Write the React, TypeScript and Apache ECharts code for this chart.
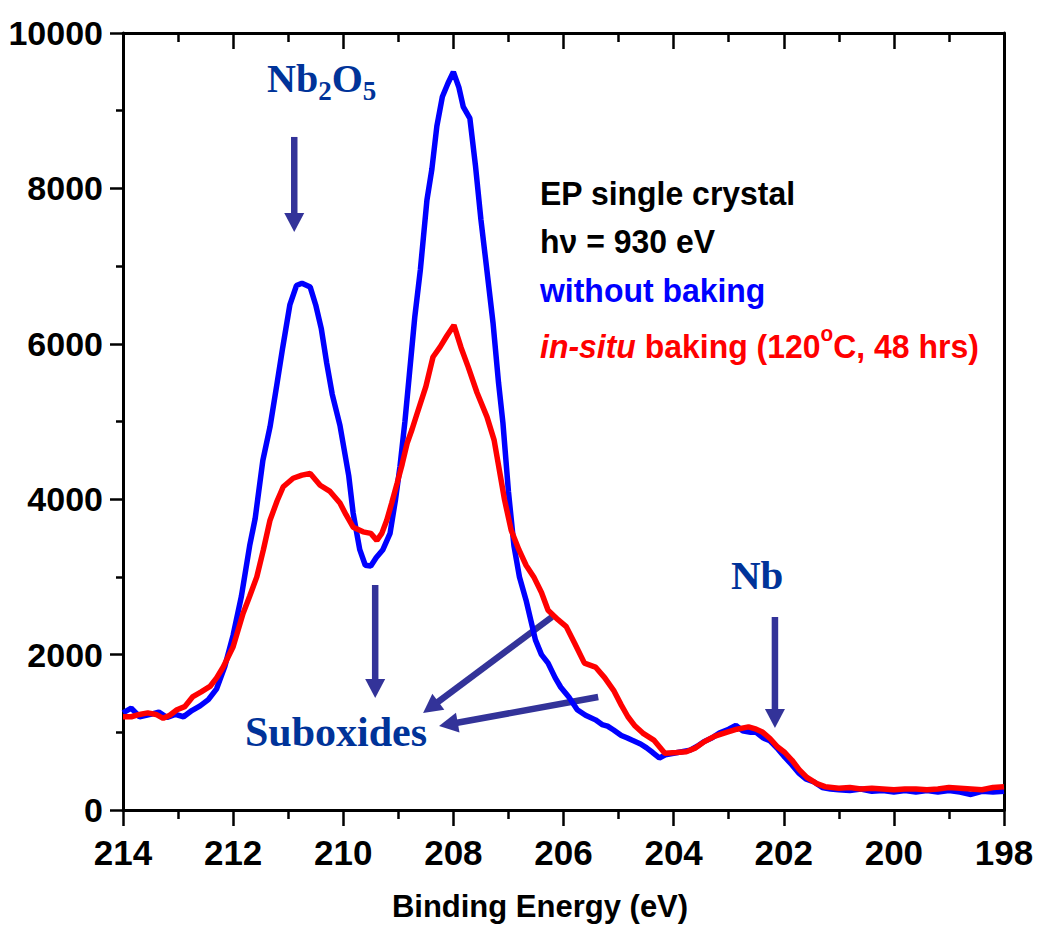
import React, { useEffect, useRef } from "react";
import * as echarts from "echarts";

// Nb 3d XPS spectra, EP single crystal, hν = 930 eV
const energyUnbaked = [
  214.0, 213.85, 213.7, 213.5, 213.35, 213.2, 213.05, 212.9, 212.75, 212.6,
  212.45, 212.3, 212.15, 212.0, 211.85, 211.7, 211.6, 211.46, 211.33, 211.2,
  211.1, 210.97, 210.85, 210.75, 210.6, 210.5, 210.4, 210.3, 210.2, 210.06,
  209.9, 209.82, 209.7, 209.6, 209.5, 209.4, 209.28, 209.15, 209.05, 208.97,
  208.88, 208.8, 208.7, 208.6, 208.48, 208.39, 208.3, 208.2, 208.1, 208.0,
  207.9, 207.82, 207.7, 207.6, 207.5, 207.4, 207.28, 207.18, 207.1, 207.0,
  206.9, 206.8, 206.68, 206.51, 206.4, 206.28, 206.15, 206.05, 205.9, 205.75,
  205.6, 205.42, 205.3, 205.2, 205.09, 204.95, 204.85, 204.76, 204.6, 204.49,
  204.38, 204.26, 204.15, 204.0, 203.85, 203.7, 203.57, 203.45, 203.3, 203.17,
  203.0, 202.87, 202.75, 202.6, 202.5, 202.38, 202.25, 202.1, 201.98, 201.85,
  201.72, 201.6, 201.45, 201.3, 201.15, 201.0, 200.8, 200.6, 200.4, 200.2,
  200.0, 199.8, 199.6, 199.4, 199.2, 199.0, 198.8, 198.6, 198.4, 198.2, 198.0,
];
const countsUnbaked = [
  1250, 1310, 1200, 1230, 1260, 1190, 1230, 1200, 1280, 1340,
  1420, 1560, 1850, 2250, 2750, 3400, 3750, 4500, 4930, 5500,
  5950, 6500, 6750, 6780, 6730, 6500, 6200, 5750, 5350, 4950,
  4300, 3820, 3350, 3150, 3140, 3250, 3350, 3560, 4000, 4420,
  5000, 5600, 6350, 6950, 7850, 8250, 8800, 9180, 9350, 9500,
  9300, 9050, 8900, 8300, 7600, 7000, 6270, 5500, 4980, 4100,
  3400, 3000, 2700, 2190, 2000, 1890, 1700, 1580, 1450, 1290,
  1220, 1160, 1100, 1080, 1030, 960, 930, 900, 850, 800,
  740, 670, 710, 730, 750, 770, 820, 880, 930, 990,
  1040, 1090, 1020, 1000, 1000, 930, 890, 780, 680, 580,
  470, 400, 360, 290, 270, 260, 250, 270, 240, 250,
  230, 250, 230, 250, 230, 250, 230, 200, 240, 230, 240,
];

const energyBaked = [
  214.0, 213.85, 213.7, 213.55, 213.4, 213.27, 213.15, 213.02, 212.88, 212.73,
  212.58, 212.42, 212.3, 212.18, 212.0, 211.82, 211.7, 211.57, 211.45, 211.33,
  211.2, 211.09, 210.91, 210.75, 210.6, 210.42, 210.24, 210.06, 209.95, 209.82,
  209.64, 209.5, 209.39, 209.3, 209.21, 209.12, 209.02, 208.93, 208.84, 208.75,
  208.66, 208.5, 208.37, 208.24, 208.12, 207.99, 207.86, 207.73, 207.57, 207.39,
  207.26, 207.07, 206.95, 206.81, 206.68, 206.54, 206.4, 206.28, 206.1, 205.95,
  205.8, 205.62, 205.42, 205.25, 205.09, 204.95, 204.83, 204.7, 204.56, 204.36,
  204.16, 203.95, 203.77, 203.6, 203.44, 203.25, 203.04, 202.85, 202.64, 202.5,
  202.38, 202.25, 202.11, 201.98, 201.85, 201.72, 201.58, 201.4, 201.25, 201.0,
  200.8, 200.6, 200.4, 200.2, 200.0, 199.8, 199.6, 199.4, 199.2, 199.0,
  198.8, 198.6, 198.4, 198.2, 198.0,
];
const countsBaked = [
  1200, 1200, 1230, 1250, 1230, 1180, 1220, 1290, 1330, 1460,
  1520, 1590, 1700, 1840, 2100, 2530, 2750, 3000, 3350, 3730,
  3980, 4160, 4270, 4310, 4330, 4180, 4100, 3950, 3800, 3640,
  3580, 3560, 3470, 3560, 3730, 3950, 4210, 4450, 4720, 4900,
  5100, 5450, 5830, 5960, 6100, 6240, 5950, 5700, 5370, 5060,
  4760, 3990, 3600, 3350, 3150, 3000, 2800, 2570, 2450, 2360,
  2150, 1890, 1840, 1700, 1540, 1350, 1200, 1080, 990, 900,
  730, 740, 750, 800, 880, 950, 1000, 1040, 1070, 1040,
  1000, 920, 810, 740, 640, 520, 420, 340, 300, 280,
  290, 270, 280, 270, 260, 270, 270, 260, 270, 290,
  280, 270, 260, 290, 300,
];

const X_MIN = 198;
const X_MAX = 214;
const Y_MIN = 0;
const Y_MAX = 10000;

const BLUE = "#0000ff";
const RED = "#ff0000";
const NOTE_BLUE = "#003399";
const ARROW = "#333399";

// arrows in data coordinates: [binding energy, counts]
const arrows: [number[], number[]][] = [
  [[210.89, 8662], [210.89, 7439]],
  [[209.42, 2896], [209.42, 1440]],
  [[206.21, 2484], [208.55, 1248]],
  [[205.37, 1454], [208.26, 1080]],
  [[202.16, 2484], [202.16, 1055]],
];

const SANS = "'Liberation Sans', Arial, sans-serif";
const SERIF = "'Liberation Serif', 'Times New Roman', serif";

function arrowShapes(p0: number[], p1: number[]) {
  const headLen = 19;
  const headHalf = 10;
  const dx = p1[0] - p0[0];
  const dy = p1[1] - p0[1];
  const len = Math.hypot(dx, dy);
  const ux = dx / len;
  const uy = dy / len;
  const nx = -uy;
  const ny = ux;
  const bx = p1[0] - ux * headLen;
  const by = p1[1] - uy * headLen;
  return [
    {
      type: "line",
      silent: true,
      shape: { x1: p0[0], y1: p0[1], x2: bx + ux * 2, y2: by + uy * 2 },
      style: { stroke: ARROW, lineWidth: 6.5 },
    },
    {
      type: "polygon",
      silent: true,
      shape: {
        points: [
          [p1[0], p1[1]],
          [bx + nx * headHalf, by + ny * headHalf],
          [bx - nx * headHalf, by - ny * headHalf],
        ],
      },
      style: { fill: ARROW },
    },
  ];
}

export default function App() {
  const ref = useRef<HTMLDivElement>(null);

  useEffect(() => {
    if (!ref.current) return;
    const chart = echarts.init(ref.current, null, { renderer: "svg" });

    const axisLine = { show: true, onZero: false, lineStyle: { color: "#000", width: 3 } };
    const tickStyle = { color: "#000", width: 2.5 };

    chart.setOption({
      animation: false,
      backgroundColor: "#fff",
      grid: {
        left: 123,
        right: 35,
        top: 33,
        bottom: 119,
        containLabel: false,
        outerBoundsMode: "none",
      },
      xAxis: [
        {
          type: "value",
          position: "bottom",
          min: X_MIN,
          max: X_MAX,
          interval: 2,
          inverse: true,
          axisLine,
          axisTick: { show: true, inside: false, length: 16, lineStyle: tickStyle },
          minorTick: { show: true, splitNumber: 2, length: 9, lineStyle: tickStyle },
          splitLine: { show: false },
          axisLabel: {
            margin: 25,
            color: "#000",
            fontFamily: SANS,
            fontWeight: "bold",
            fontSize: 35,
            showMinLabel: true,
            showMaxLabel: true,
            formatter: (v: number) => String(v),
          },
        },
        {
          type: "value",
          position: "top",
          min: X_MIN,
          max: X_MAX,
          interval: 2,
          inverse: true,
          axisLine,
          axisTick: { show: true, inside: true, length: 16, lineStyle: tickStyle },
          minorTick: { show: true, splitNumber: 2, length: 9, lineStyle: tickStyle },
          splitLine: { show: false },
          axisLabel: { show: false },
        },
      ],
      yAxis: [
        {
          type: "value",
          position: "left",
          min: Y_MIN,
          max: Y_MAX,
          interval: 2000,
          axisLine,
          axisTick: { show: true, inside: false, length: 13, lineStyle: tickStyle },
          minorTick: { show: true, splitNumber: 2, length: 7, lineStyle: tickStyle },
          splitLine: { show: false },
          axisLabel: {
            margin: 20,
            color: "#000",
            fontFamily: SANS,
            fontWeight: "bold",
            fontSize: 34,
            formatter: (v: number) => String(v),
          },
        },
        {
          type: "value",
          position: "right",
          min: Y_MIN,
          max: Y_MAX,
          interval: 2000,
          axisLine,
          axisTick: { show: false },
          splitLine: { show: false },
          axisLabel: { show: false },
        },
      ],
      series: [
        {
          name: "without baking",
          type: "line",
          xAxisIndex: 0,
          yAxisIndex: 0,
          data: energyUnbaked.map((e, i) => [e, countsUnbaked[i]]),
          showSymbol: false,
          lineStyle: { color: BLUE, width: 5.5 },
          itemStyle: { color: BLUE },
          z: 2,
        },
        {
          name: "in-situ baking",
          type: "line",
          xAxisIndex: 0,
          yAxisIndex: 0,
          data: energyBaked.map((e, i) => [e, countsBaked[i]]),
          showSymbol: false,
          lineStyle: { color: RED, width: 5.5 },
          itemStyle: { color: RED },
          z: 3,
        },
      ],
    });

    const toPx = (p: number[]) => chart.convertToPixel({ gridIndex: 0 }, p) as number[];
    const arrowEls = arrows.flatMap(([a, b]) => arrowShapes(toPx(a), toPx(b)));

    const serifBold = { fontFamily: SERIF, fontWeight: "bold", fill: NOTE_BLUE };
    const legendBase = { fontFamily: SANS, fontWeight: "bold", fontSize: 34 };

    const textEls = [
      {
        type: "text",
        x: 267,
        y: 78.5,
        silent: true,
        style: {
          text: "{m|Nb}{s|2}{m|O}{s|5}",
          verticalAlign: "middle",
          align: "left",
          rich: {
            m: { ...serifBold, fontSize: 40 },
            s: { ...serifBold, fontSize: 27, lineHeight: 27, padding: [25, 0, 0, 0] },
          },
        },
      },
      {
        type: "text",
        x: 245,
        y: 732,
        silent: true,
        style: { text: "Suboxides", ...serifBold, fontSize: 42, verticalAlign: "middle", align: "left" },
      },
      {
        type: "text",
        x: 731,
        y: 574.5,
        silent: true,
        style: { text: "Nb", ...serifBold, fontSize: 41, verticalAlign: "middle", align: "left" },
      },
      {
        type: "text",
        x: 540,
        y: 193,
        scaleX: 0.94,
        silent: true,
        style: { text: "EP single crystal", ...legendBase, fill: "#000", verticalAlign: "middle" },
      },
      {
        type: "text",
        x: 540,
        y: 241,
        scaleX: 0.94,
        silent: true,
        style: { text: "hν = 930 eV", ...legendBase, fill: "#000", verticalAlign: "middle" },
      },
      {
        type: "text",
        x: 540,
        y: 290,
        scaleX: 0.94,
        silent: true,
        style: { text: "without baking", ...legendBase, fill: BLUE, verticalAlign: "middle" },
      },
      {
        type: "text",
        x: 540,
        y: 346,
        scaleX: 0.94,
        silent: true,
        style: {
          text: "{it|in-situ}{n| baking (120}{sup|o}{n|C, 48 hrs)}",
          verticalAlign: "middle",
          align: "left",
          rich: {
            it: { ...legendBase, fill: RED, fontStyle: "italic" },
            n: { ...legendBase, fill: RED },
            sup: { ...legendBase, fill: RED, fontSize: 22, lineHeight: 22, padding: [0, 0, 24, 0] },
          },
        },
      },
      {
        type: "text",
        x: 540,
        y: 906.6,
        silent: true,
        style: {
          text: "Binding Energy (eV)",
          fontFamily: SANS,
          fontWeight: "bold",
          fontSize: 31,
          fill: "#000",
          align: "center",
          verticalAlign: "middle",
        },
      },
    ];

    chart.setOption({ graphic: [...arrowEls, ...textEls] });

    return () => chart.dispose();
  }, []);

  return (
    <div
      ref={ref}
      style={{ position: "absolute", left: 0, top: 0, width: 1039, height: 929, background: "#fff" }}
    />
  );
}
